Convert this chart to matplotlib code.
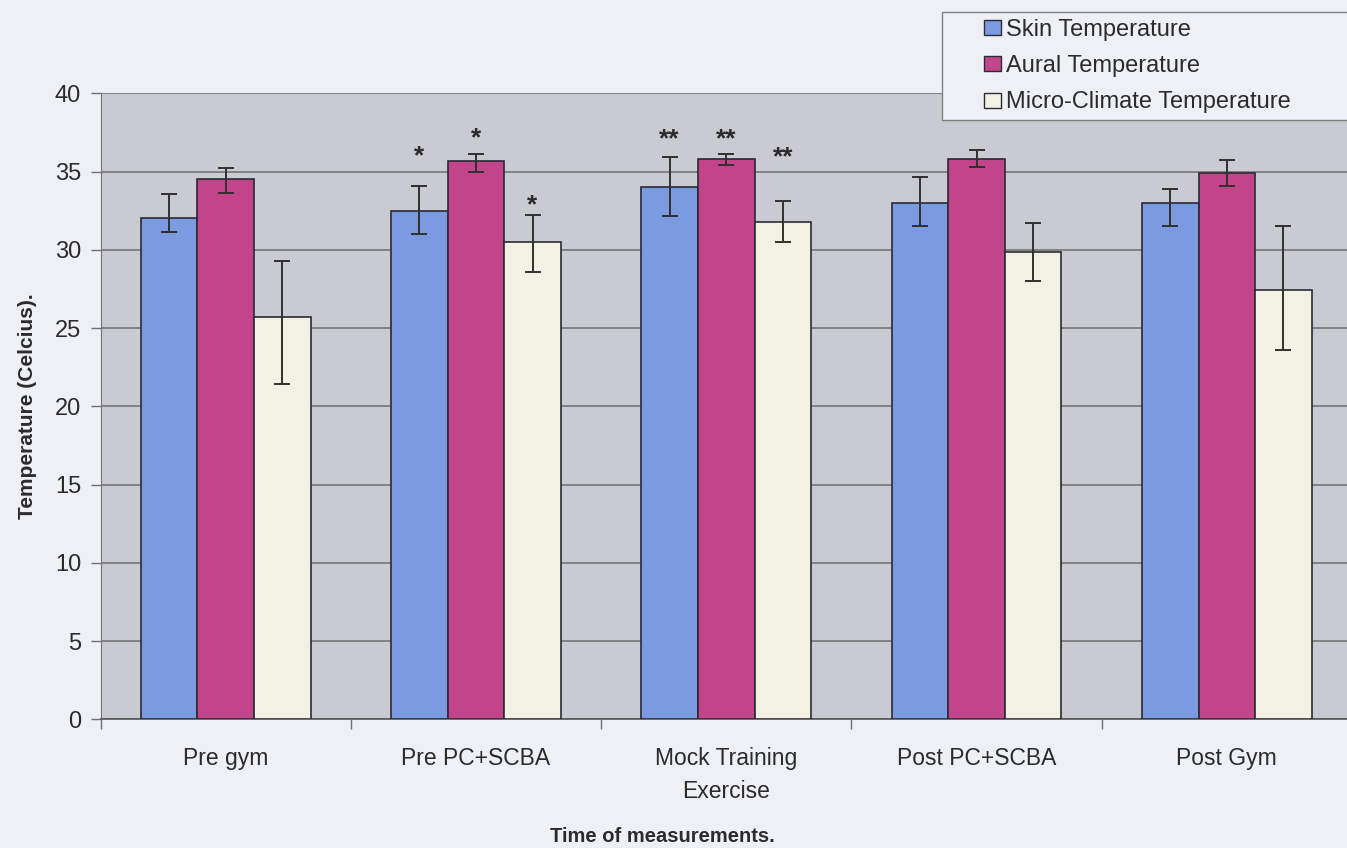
import numpy as np
import matplotlib
matplotlib.use("Agg")
import matplotlib.pyplot as plt
from matplotlib.patches import Patch, Rectangle

plt.rcParams['font.family'] = ['Liberation Sans', 'DejaVu Sans']

# measurement stages and mean temperatures (deg C)
stages = ["Pre gym", "Pre PC+SCBA", "Mock Training\nExercise", "Post PC+SCBA", "Post Gym"]
series_names = ["Skin Temperature", "Aural Temperature", "Micro-Climate Temperature"]

skin = [32.0, 32.5, 34.0, 33.0, 33.0]
skin_err_lo = [0.85, 1.5, 1.85, 1.5, 1.45]
skin_err_hi = [1.55, 1.6, 1.95, 1.65, 0.9]

aural = [34.5, 35.7, 35.8, 35.8, 34.9]
aural_err_lo = [0.9, 0.75, 0.4, 0.5, 0.8]
aural_err_hi = [0.75, 0.4, 0.3, 0.6, 0.85]

micro = [25.7, 30.5, 31.8, 29.85, 27.4]
micro_err_lo = [4.3, 1.95, 1.3, 1.85, 3.8]
micro_err_hi = [3.6, 1.75, 1.3, 1.85, 4.1]

# significance markers: (stage index, series index, label, y of star centre)
sig_marks = [
    (1, 0, "*", 36.3), (1, 1, "*", 37.5), (1, 2, "*", 33.2),
    (2, 0, "**", 37.4), (2, 1, "**", 37.4), (2, 2, "**", 36.25),
]

colors = ["#7b9ae0", "#c2448b", "#f3f1e4"]
fig_bg = "#eef0f5"
plot_bg = "#cacad3"
text_col = "#2b2b2b"
W, H = 1347, 848

fig = plt.figure(figsize=(W / 100, H / 100), dpi=100, facecolor=fig_bg)
ax = fig.add_axes([100.5 / W, 1 - 719.3 / H, 1251.5 / W, (719.3 - 93.3) / H])
ax.set_facecolor(plot_bg)

x = np.arange(len(stages))
width = 0.226
values = [skin, aural, micro]
errs = [(skin_err_lo, skin_err_hi), (aural_err_lo, aural_err_hi), (micro_err_lo, micro_err_hi)]

for i, (vals, (lo, hi)) in enumerate(zip(values, errs)):
    pos = x + (i - 1) * width
    ax.bar(pos, vals, width, color=colors[i], edgecolor="#2a2a35", linewidth=1.2,
           label=series_names[i], zorder=3)
    ax.errorbar(pos, vals, yerr=[lo, hi], fmt="none", ecolor="#303030",
                elinewidth=1.4, capsize=6, capthick=1.4, zorder=4)

# stars: baseline sits below the given y so the glyph is centred on it
for stage_i, series_i, label, ypos in sig_marks:
    ax.annotate(label, (x[stage_i] + (series_i - 1) * width, ypos),
                xytext=(0, -9), textcoords="offset points",
                ha="center", va="baseline", fontsize=19, fontweight="bold",
                color=text_col, zorder=5)

ax.set_ylim(0, 40)
ax.set_yticks(np.arange(0, 41, 5))
ax.set_xlim(-0.5, len(stages) - 0.5)
ax.yaxis.grid(True, color="#6e6e6e", linewidth=1.1, zorder=0)
ax.set_axisbelow(True)

# category boundaries get the tick marks, names sit in between
ax.set_xticks(np.arange(-0.5, len(stages), 1.0))
ax.set_xticklabels([])
ax.set_xticks(x, minor=True)
ax.set_xticklabels(stages, minor=True, fontsize=16.5, color=text_col, linespacing=1.55)
ax.tick_params(axis="x", which="minor", length=0, pad=20)
ax.tick_params(axis="x", which="major", length=7, color="#707070", width=1)
ax.tick_params(axis="y", length=7, pad=7, color="#707070", width=1, labelsize=17,
               labelcolor=text_col)

for side in ["top", "right"]:
    ax.spines[side].set_visible(False)
ax.spines["left"].set_color("#707070")
ax.spines["bottom"].set_color("#555555")
ax.spines["bottom"].set_linewidth(1.2)

ax.set_ylabel("Temperature (Celcius).", fontsize=15, fontweight="bold", color=text_col)
ax.yaxis.set_label_coords(-0.051, 0.5)
fig.text(662 / W, 1 - 837 / H, "Time of measurements.", ha="center", va="center",
         fontsize=14.5, fontweight="bold", color=text_col)

# legend box runs off the right edge of the figure
fig.patches.append(Rectangle((942 / W, 1 - 120 / H), 440 / W, 108 / H,
                             transform=fig.transFigure, facecolor=fig_bg,
                             edgecolor="#808080", linewidth=1.0, zorder=1))
handles = [Patch(facecolor=c, edgecolor="#2a2a35", linewidth=1.0) for c in colors]
leg = fig.legend(handles, series_names, loc="upper left",
                 bbox_to_anchor=(984 / W, 1 - 19 / H),
                 fontsize=17, frameon=False,
                 handlelength=0.72, handleheight=0.6, handletextpad=0.2,
                 labelspacing=0.6, borderpad=0, borderaxespad=0)
leg.set_zorder(2)
for t in leg.get_texts():
    t.set_color(text_col)

fig.savefig("out.png", dpi=100, facecolor=fig_bg)
